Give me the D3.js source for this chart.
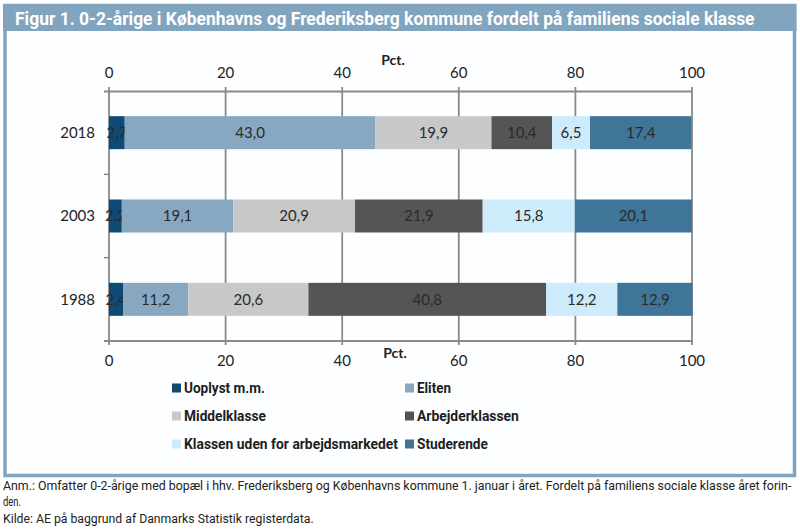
<!DOCTYPE html>
<html><head><meta charset="utf-8">
<script src="https://cdn.jsdelivr.net/npm/d3@7"></script>
<style>body{margin:0;background:#fff}svg{display:block}</style>
</head><body><svg id="c" width="800" height="532"></svg>
<script>
const years = ["2018", "2003", "1988"];
const categories = ["Uoplyst m.m.", "Eliten", "Middelklasse", "Arbejderklassen", "Klassen uden for arbejdsmarkedet", "Studerende"];
const uoplyst = [2.7, 2.2, 2.4];
const eliten = [43.0, 19.1, 11.2];
const middelklasse = [19.9, 20.9, 20.6];
const arbejderklassen = [10.4, 21.9, 40.8];
const udenfor = [6.5, 15.8, 12.2];
const studerende = [17.4, 20.1, 12.9];
const tickValues = [0, 20, 40, 60, 80, 100];
const colors = ["#0f4a74", "#87a8c0", "#c8c8c8", "#555555", "#cdebfa", "#3e7598"];
const titleText = "Figur 1. 0-2-årige i Københavns og Frederiksberg kommune fordelt på familiens sociale klasse";
const noteLines = ["Anm.: Omfatter 0-2-årige med bopæl i hhv. Frederiksberg og Københavns kommune 1. januar i året. Fordelt på familiens sociale klasse året forin-", "den.", "Kilde: AE på baggrund af Danmarks Statistik registerdata."];

const series = [uoplyst, eliten, middelklasse, arbejderklassen, udenfor, studerende];
const rows = years.map((y, i) => {
  const o = {year: y};
  categories.forEach((c, j) => o[c] = series[j][i]);
  return o;
});
const stack = d3.stack().keys(categories)(rows);

const svg = d3.select("#c");
const narrow = "'Roboto', 'Open Sans', sans-serif";
// squeeze a text horizontally to a target width (condensed look)
function squeeze(sel, target, anchorX) {
  sel.each(function() {
    const w = this.getComputedTextLength();
    const t = typeof target === "function" ? target.apply(this, arguments) : target;
    if (w > 0 && t) {
      const k = t / w;
      const ax = +d3.select(this).attr("x");
      d3.select(this).attr("transform", `translate(${ax * (1 - k)},0) scale(${k},1)`);
    }
  });
}

const frameColor = "#82a5bf";
svg.append("rect").attr("x", 5).attr("y", 5.5).attr("width", 789.5).attr("height", 470)
  .attr("fill", "#fcfeff").attr("stroke", frameColor).attr("stroke-width", 3.5);
svg.append("rect").attr("x", 3).attr("y", 4).attr("width", 793.5).attr("height", 27).attr("fill", frameColor);
svg.append("text").attr("x", 15).attr("y", 25).text(titleText)
  .attr("fill", "#fff").attr("font-family", narrow)
  .attr("font-weight", "bold").attr("font-size", 18)
  .call(squeeze, 740);

const x = d3.scaleLinear().domain([0, 100]).range([109, 692]);
const y = d3.scaleBand().domain(years).range([91, 341]).paddingInner(0.604).paddingOuter(0.302);
const font = "Lato, 'Open Sans', sans-serif";
const grid = "#8a8a8a";

svg.append("g").selectAll("line").data(tickValues).join("line")
  .attr("x1", d => x(d)).attr("x2", d => x(d)).attr("y1", 87).attr("y2", 345)
  .attr("stroke", grid).attr("stroke-width", 1.8);
[91.5, 341].forEach(yy => {
  svg.append("line").attr("x1", 104).attr("x2", x(100) + 1).attr("y1", yy).attr("y2", yy)
    .attr("stroke", grid).attr("stroke-width", 2);
});
const sep = [y("2018") + y.bandwidth() + (y.step() - y.bandwidth()) / 2, y("2003") + y.bandwidth() + (y.step() - y.bandwidth()) / 2];
svg.append("g").selectAll("line").data(sep).join("line")
  .attr("x1", 104).attr("x2", 109).attr("y1", d => d).attr("y2", d => d)
  .attr("stroke", grid).attr("stroke-width", 1.5);

const fmtTick = d3.format("d");
svg.append("g").selectAll("text").data(tickValues).join("text")
  .attr("x", d => x(d)).attr("y", 78).attr("text-anchor", "middle").text(fmtTick)
  .attr("font-family", font).attr("font-size", 15).attr("fill", "#222");
svg.append("g").selectAll("text").data(tickValues).join("text")
  .attr("x", d => x(d)).attr("y", 366).attr("text-anchor", "middle").text(fmtTick)
  .attr("font-family", font).attr("font-size", 15).attr("fill", "#222");
svg.append("text").attr("x", 393).attr("y", 65).attr("text-anchor", "middle").text("Pct.")
  .attr("font-family", font).attr("font-weight", "bold").attr("font-size", 14).attr("fill", "#222");
svg.append("text").attr("x", 395).attr("y", 358).attr("text-anchor", "middle").text("Pct.")
  .attr("font-family", font).attr("font-weight", "bold").attr("font-size", 14).attr("fill", "#222");

svg.append("g").selectAll("text").data(years).join("text")
  .attr("x", 95).attr("y", d => y(d) + y.bandwidth() / 2).attr("dy", "0.36em")
  .attr("text-anchor", "end").text(d => d)
  .attr("font-family", font).attr("font-size", 15).attr("fill", "#222");

const fmt = v => d3.format(".1f")(v).replace(".", ",");
stack.forEach((layer, k) => {
  const g = svg.append("g");
  g.selectAll("rect").data(layer).join("rect")
    .attr("x", d => x(d[0])).attr("width", d => x(d[1]) - x(d[0]))
    .attr("y", d => y(d.data.year)).attr("height", y.bandwidth())
    .attr("fill", colors[k]);
  g.selectAll("text").data(layer).join("text")
    .attr("x", d => (x(d[0]) + x(d[1])) / 2).attr("y", d => y(d.data.year) + y.bandwidth() / 2)
    .attr("dy", "0.36em").attr("text-anchor", "middle")
    .text(d => fmt(d.data[categories[k]]))
    .attr("font-family", font).attr("font-size", 15).attr("fill", "#2a2a2a");
});

// legend
const legX = [172, 405], legY = [388, 416, 444];
const legW = [81, 34, 82, 102, 214, 71];
const leg = svg.append("g").selectAll("g").data(categories).join("g")
  .attr("transform", (d, i) => `translate(${legX[i % 2]},${legY[Math.floor(i / 2)]})`);
leg.append("rect").attr("x", 0).attr("y", -4.5).attr("width", 9).attr("height", 9)
  .attr("fill", (d, i) => colors[i]);
leg.append("text").attr("x", 12).attr("y", 0).attr("dy", "0.36em").text(d => d)
  .attr("font-family", narrow)
  .attr("font-weight", "bold").attr("font-size", 15).attr("fill", "#1e1e1e")
  .call(squeeze, (d, i) => legW[i]);

// notes
const noteY = [490, 506, 523];
const noteW = [789, 18, 311];
svg.append("g").selectAll("text").data(noteLines).join("text")
  .attr("x", 3).attr("y", (d, i) => noteY[i]).text(d => d)
  .attr("font-family", narrow)
  .attr("font-size", 13).attr("fill", "#222")
  .call(squeeze, (d, i) => noteW[i]);
</script></body></html>
